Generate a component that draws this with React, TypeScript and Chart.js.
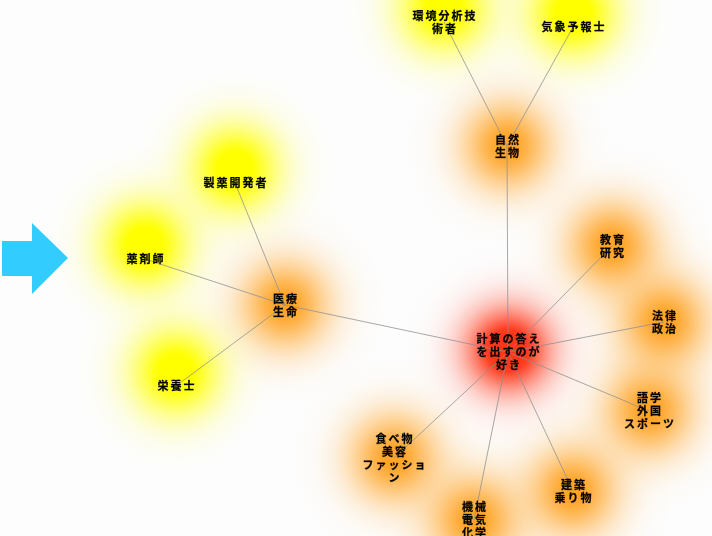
import React, { useEffect, useRef } from "react";
import { Chart, registerables } from "chart.js";

Chart.register(...registerables);

// Node data (positions in chart units)
const nodeLabels: string[][] = [
  ["計算の答え", "を出すのが", "好き"],
  ["自然", "生物"],
  ["環境分析技", "術者"],
  ["気象予報士"],
  ["医療", "生命"],
  ["製薬開発者"],
  ["薬剤師"],
  ["栄養士"],
  ["教育", "研究"],
  ["法律", "政治"],
  ["語学", "外国", "スポーツ"],
  ["建築", "乗り物"],
  ["機械", "電気", "化学"],
  ["食べ物", "美容", "ファッショ", "ン"],
];
const nodeX: number[] = [508, 507, 444, 573, 285, 235, 145, 176, 612, 664, 649, 573, 474, 394];
const nodeY: number[] = [352, 146, 22, 27, 305, 183, 259, 386, 246, 322, 411, 491, 520, 458];
const nodeLevel: string[] = [
  "root", "mid", "leaf", "leaf", "mid", "leaf", "leaf", "leaf",
  "mid", "mid", "mid", "mid", "mid", "mid",
];
const edgeFrom: number[] = [0, 0, 0, 0, 0, 0, 0, 0, 1, 1, 4, 4, 4];
const edgeTo: number[] = [1, 4, 8, 9, 10, 11, 12, 13, 2, 3, 5, 6, 7];

const glowStyle: Record<
  string,
  { rgb: string; r: number; dy: number; peak: number; k: number; halo: number }
> = {
  root: { rgb: "255,55,25", r: 105, dy: -2, peak: 1.1, k: 7.0, halo: 0.22 },
  mid: { rgb: "255,165,40", r: 100, dy: 0, peak: 0.88, k: 5.5, halo: 0.2 },
  leaf: { rgb: "255,255,0", r: 100, dy: -14, peak: 1.05, k: 5.6, halo: 0.18 },
};

export default function App() {
  const ref = useRef<HTMLCanvasElement | null>(null);

  useEffect(() => {
    document.body.style.margin = "0";
    document.body.style.background = "#fdfdfd";
    const canvas = ref.current;
    if (!canvas) return;

    const points = nodeX.map((x, i) => ({ x, y: nodeY[i] }));

    const edgeSets = edgeFrom.map((f, i) => ({
      type: "line" as const,
      data: [points[f], points[edgeTo[i]]],
      showLine: true,
      borderColor: "rgba(140,140,140,0.75)",
      borderWidth: 1,
      pointRadius: 0,
      fill: false,
    }));

    const bgPlugin = {
      id: "bg",
      beforeDraw(chart: any) {
        const c = chart.ctx;
        c.save();
        c.fillStyle = "#fdfdfd";
        c.fillRect(0, 0, chart.width, chart.height);
        c.restore();
      },
    };

    const glowPlugin = {
      id: "glow",
      beforeDatasetsDraw(chart: any) {
        const c = chart.ctx;
        const xs = chart.scales.x;
        const ys = chart.scales.y;
        const order = [0, 1, 4, 8, 9, 10, 11, 12, 13, 2, 3, 5, 6, 7];
        c.save();
        order.forEach((i) => {
          const st = glowStyle[nodeLevel[i]];
          const px = xs.getPixelForValue(nodeX[i]);
          const py = ys.getPixelForValue(nodeY[i]) + st.dy;
          const g = c.createRadialGradient(px, py, 0, px, py, st.r);
          for (let s = 0; s <= 24; s++) {
            const t = s / 24;
            let a = Math.min(1, st.peak * Math.exp(-st.k * t * t) + st.halo * (1 - t) * (1 - t));
            if (s === 24) a = 0;
            g.addColorStop(t, `rgba(${st.rgb},${a.toFixed(3)})`);
          }
          c.fillStyle = g;
          c.beginPath();
          c.arc(px, py, st.r, 0, Math.PI * 2);
          c.fill();
        });
        c.restore();
      },
      afterDatasetsDraw(chart: any) {
        const c = chart.ctx;
        const xs = chart.scales.x;
        const ys = chart.scales.y;
        c.save();
        c.font = "bold 11px 'Noto Sans CJK JP'";
        (c as any).letterSpacing = "2px";
        c.fillStyle = "#000";
        c.strokeStyle = "rgba(0,0,0,0.6)";
        c.lineWidth = 0.4;
        c.textAlign = "center";
        c.textBaseline = "middle";
        nodeLabels.forEach((lines, i) => {
          const px = xs.getPixelForValue(nodeX[i]);
          const py = ys.getPixelForValue(nodeY[i]);
          const lh = 13;
          const top = py - ((lines.length - 1) * lh) / 2;
          lines.forEach((t, k) => {
            c.fillText(t, px + 1, top + k * lh);
            c.strokeText(t, px + 1, top + k * lh);
          });
        });
        c.restore();
      },
    };

    const chart = new Chart(canvas, {
      type: "scatter",
      data: {
        datasets: [
          ...edgeSets,
          {
            type: "scatter" as const,
            data: points,
            pointRadius: 0,
            backgroundColor: "rgba(0,0,0,0)",
          },
        ] as any,
      },
      options: {
        responsive: false,
        animation: false,
        devicePixelRatio: 1,
        layout: { padding: 0 },
        plugins: { legend: { display: false }, tooltip: { enabled: false } },
        events: [],
        scales: {
          x: { type: "linear", min: 0, max: 712, display: false },
          y: { type: "linear", min: 0, max: 536, reverse: true, display: false },
        },
      },
      plugins: [bgPlugin, glowPlugin],
    });
    return () => chart.destroy();
  }, []);

  return (
    <div style={{ position: "relative", width: 712, height: 536, background: "#fdfdfd" }}>
      <canvas ref={ref} width={712} height={536} style={{ display: "block" }} />
      <svg
        width={70}
        height={80}
        style={{ position: "absolute", left: 0, top: 218 }}
        viewBox="0 0 70 80"
      >
        <polygon points="2,23 32,23 32,5 68,40 32,76 32,58 2,58" fill="#33ccff" />
      </svg>
    </div>
  );
}
